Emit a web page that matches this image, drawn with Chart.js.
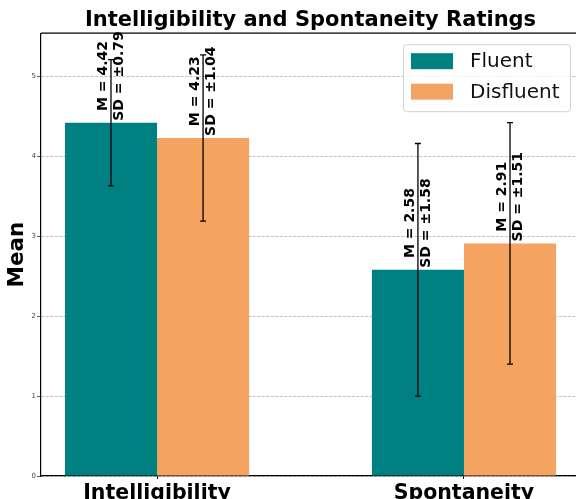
<!DOCTYPE html>
<html>
<head>
<meta charset="utf-8">
<script src="https://cdn.jsdelivr.net/npm/chart.js@4"></script>
<style>
    html, body { margin: 0; padding: 0; overflow: hidden; background: #fff; }
    #wrap { width: 580px; height: 499px; }
</style>
</head>
<body>
<div id="wrap"><canvas id="ratingsChart"></canvas></div>
<script>
const categories = ['Intelligibility', 'Spontaneity'];
const fluentMeans = [4.42, 2.58];
const fluentSDs = [0.79, 1.58];
const disfluentMeans = [4.23, 2.91];
const disfluentSDs = [1.04, 1.51];
const yTicks = [0, 1, 2, 3, 4, 5];

const FONT = '"DejaVu Sans", "Liberation Sans", sans-serif';

// error bars, value labels, top spine and the legend box
const overlayPlugin = {
    id: 'overlay',
    afterDatasetsDraw(chart) {
        const ctx = chart.ctx;
        const yScale = chart.scales.y;
        const area = chart.chartArea;

        ctx.save();
        ctx.strokeStyle = '#000';
        ctx.lineWidth = 1.2;
        ctx.beginPath();
        ctx.moveTo(area.left, area.top);
        ctx.lineTo(area.right, area.top);
        ctx.stroke();

        chart.data.datasets.forEach((ds, di) => {
            const meta = chart.getDatasetMeta(di);
            meta.data.forEach((bar, i) => {
                const mean = ds.data[i].y;
                const sd = ds.sd[i];
                const top = yScale.getPixelForValue(mean + sd);
                const bottom = yScale.getPixelForValue(mean - sd);
                ctx.strokeStyle = '#000';
                ctx.lineWidth = 1.3;
                ctx.beginPath();
                ctx.moveTo(bar.x, top);
                ctx.lineTo(bar.x, bottom);
                ctx.moveTo(bar.x - 3, top);
                ctx.lineTo(bar.x + 3, top);
                ctx.moveTo(bar.x - 3, bottom);
                ctx.lineTo(bar.x + 3, bottom);
                ctx.stroke();
            });
        });

        chart.data.datasets.forEach((ds, di) => {
            const meta = chart.getDatasetMeta(di);
            meta.data.forEach((bar, i) => {
                const mean = ds.data[i].y;
                const sd = ds.sd[i];
                const lines = [`M = ${mean.toFixed(2)}`, `SD = ±${sd.toFixed(2)}`];
                ctx.save();
                ctx.font = `bold 14px ${FONT}`;
                ctx.fillStyle = '#000';
                ctx.textAlign = 'center';
                ctx.textBaseline = 'middle';
                const w = Math.max(...lines.map(t => ctx.measureText(t).width));
                ctx.translate(bar.x, yScale.getPixelForValue(mean));
                ctx.rotate(-Math.PI / 2);
                lines.forEach((t, k) => ctx.fillText(t, w / 2 + 2, (k - 0.5) * 16));
                ctx.restore();
            });
        });
        ctx.restore();
    },
    afterDraw(chart) {
        const ctx = chart.ctx;
        const area = chart.chartArea;
        const lx = area.right - 177;
        const ly = area.top + 11;
        const lw = 167, lh = 67;

        ctx.save();
        ctx.fillStyle = 'rgba(255,255,255,0.8)';
        ctx.strokeStyle = '#d0d0d0';
        ctx.lineWidth = 1;
        ctx.beginPath();
        ctx.roundRect(lx + 0.5, ly + 0.5, lw, lh, 3);
        ctx.fill();
        ctx.stroke();

        ctx.font = `20px ${FONT}`;
        ctx.textAlign = 'left';
        ctx.textBaseline = 'middle';
        chart.data.datasets.forEach((ds, di) => {
            const cy = ly + 17 + di * 30.5;
            ctx.fillStyle = ds.backgroundColor;
            ctx.fillRect(lx + 8, cy - 8, 42, 16);
            ctx.fillStyle = '#111';
            ctx.fillText(ds.label, lx + 67, cy + 1);
        });
        ctx.restore();
    }
};

const ctx = document.getElementById('ratingsChart').getContext('2d');
new Chart(ctx, {
    type: 'bar',
    data: {
        datasets: [
            {
                label: 'Fluent',
                data: fluentMeans.map((v, i) => ({ x: i, y: v })),
                sd: fluentSDs,
                backgroundColor: '#008080',
                borderWidth: 0
            },
            {
                label: 'Disfluent',
                data: disfluentMeans.map((v, i) => ({ x: i, y: v })),
                sd: disfluentSDs,
                backgroundColor: '#F4A460',
                borderWidth: 0
            }
        ]
    },
    options: {
        responsive: true,
        maintainAspectRatio: false,
        animation: false,
        datasets: { bar: { categoryPercentage: 0.6, barPercentage: 1 } },
        layout: { padding: 0 },
        plugins: {
            legend: { display: false },
            tooltip: { enabled: false },
            title: {
                display: true,
                text: 'Intelligibility and Spontaneity Ratings',
                fullSize: false,
                color: '#000',
                font: { family: FONT, size: 21, weight: 'bold', lineHeight: 1.2 },
                padding: { top: 8, bottom: 0 }
            }
        },
        scales: {
            x: {
                type: 'linear',
                min: -0.378,
                max: 1.378,
                offset: false,
                afterBuildTicks: scale => {
                    scale.ticks = categories.map((c, i) => ({ value: i }));
                },
                afterFit: scale => { scale.height = 23; },
                ticks: {
                    callback: value => categories[value],
                    color: '#000',
                    font: { family: FONT, size: 20.5, weight: 'bold' },
                    padding: 2,
                    maxRotation: 0,
                    autoSkip: false
                },
                grid: { drawOnChartArea: false, offset: false, tickLength: 3, tickColor: '#000' },
                border: { color: '#000', width: 1.2 }
            },
            y: {
                min: 0,
                max: 5.54,
                afterBuildTicks: scale => {
                    scale.ticks = yTicks.map(v => ({ value: v }));
                },
                afterFit: scale => { scale.width = 41; },
                ticks: {
                    color: '#444',
                    font: { family: FONT, size: 7 },
                    padding: 1
                },
                grid: {
                    color: '#b0b0b0',
                    lineWidth: 0.8,
                    tickLength: 4,
                    tickColor: '#333',
                    tickBorderDash: []
                },
                border: { color: '#000', width: 1.2, dash: [3, 1.5] },
                title: {
                    display: true,
                    text: 'Mean',
                    color: '#000',
                    font: { family: FONT, size: 21.5, weight: 'bold', lineHeight: 1.2 },
                    padding: { top: 5, bottom: 0 }
                }
            }
        }
    },
    plugins: [overlayPlugin]
});
</script>
</body>
</html>
